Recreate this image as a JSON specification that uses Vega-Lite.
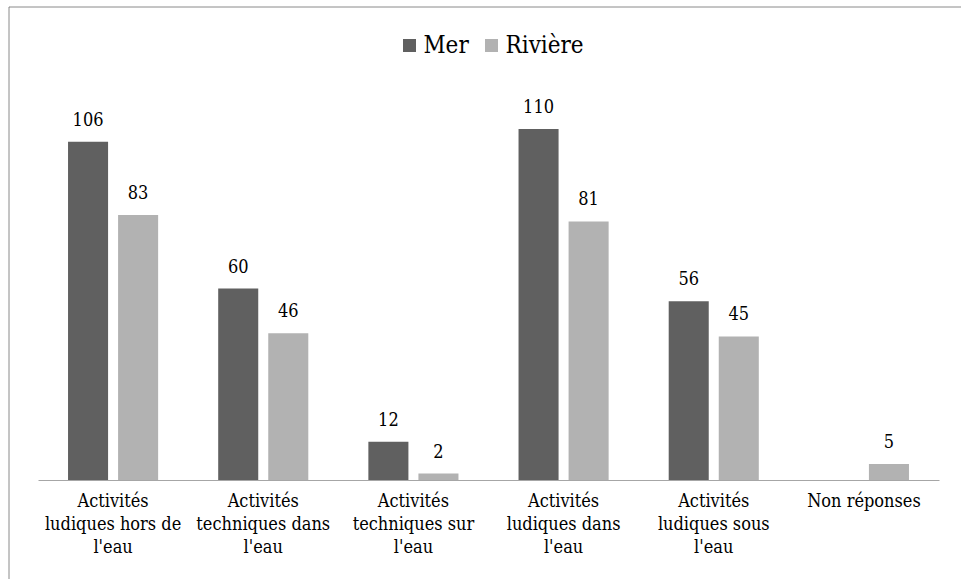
{
  "$schema": "https://vega.github.io/schema/vega-lite/v6.json",
  "width": 952.5,
  "height": 572.5,
  "autosize": {"type": "none"},
  "padding": {"left": 8.5, "top": 6.5, "right": 0, "bottom": 0},
  "background": "white",
  "view": {"stroke": "#8a8a8a", "strokeWidth": 1, "strokeDash": [952.5, 1525, 572.5]},
  "config": {
    "font": "DejaVu Serif Condensed",
    "view": {"stroke": "#8a8a8a", "strokeWidth": 1, "strokeDash": [952.5, 1525, 572.5]}
  },
  "data": {
    "values": [
      {"categorie": "Activités ludiques hors de l'eau", "serie": "Mer", "valeur": 106},
      {"categorie": "Activités ludiques hors de l'eau", "serie": "Rivière", "valeur": 83},
      {"categorie": "Activités techniques dans l'eau", "serie": "Mer", "valeur": 60},
      {"categorie": "Activités techniques dans l'eau", "serie": "Rivière", "valeur": 46},
      {"categorie": "Activités techniques sur l'eau", "serie": "Mer", "valeur": 12},
      {"categorie": "Activités techniques sur l'eau", "serie": "Rivière", "valeur": 2},
      {"categorie": "Activités ludiques dans l'eau", "serie": "Mer", "valeur": 110},
      {"categorie": "Activités ludiques dans l'eau", "serie": "Rivière", "valeur": 81},
      {"categorie": "Activités ludiques sous l'eau", "serie": "Mer", "valeur": 56},
      {"categorie": "Activités ludiques sous l'eau", "serie": "Rivière", "valeur": 45},
      {"categorie": "Non réponses", "serie": "Rivière", "valeur": 5}
    ]
  },
  "encoding": {
    "x": {
      "field": "categorie",
      "type": "nominal",
      "sort": null,
      "scale": {"range": [29.5, 930.5], "paddingInner": 0.4, "paddingOuter": 0.2},
      "axis": {
        "title": null,
        "orient": "bottom",
        "offset": -99,
        "labelAngle": 0,
        "ticks": false,
        "grid": false,
        "domainColor": "#a6a6a6",
        "domainWidth": 1,
        "labelFont": "DejaVu Serif Condensed",
        "labelFontSize": 18,
        "labelColor": "#000000",
        "labelPadding": 12,
        "labelLineHeight": 23.4,
        "labelLimit": 0,
        "labelExpr": "test(/^Activités /, datum.value) ? ['Activités', replace(datum.value, /^Activités (.*) \\S+$/, '$1'), replace(datum.value, /^.* /, '')] : datum.value"
      }
    },
    "xOffset": {
      "field": "serie",
      "type": "nominal",
      "scale": {"domain": ["Mer", "Rivière"], "paddingInner": 0.2, "paddingOuter": 0}
    },
    "y": {
      "field": "valeur",
      "type": "quantitative",
      "scale": {"domain": [0, 120], "range": [473.5, 90.5], "nice": false},
      "axis": null
    }
  },
  "layer": [
    {
      "mark": {"type": "bar"},
      "encoding": {
        "color": {
          "field": "serie",
          "type": "nominal",
          "scale": {"domain": ["Mer", "Rivière"], "range": ["#606060", "#b2b2b2"]},
          "legend": {
            "title": null,
            "orient": "none",
            "direction": "horizontal",
            "legendX": 389,
            "legendY": 27,
            "padding": 0,
            "symbolType": "square",
            "symbolSize": 169,
            "symbolStrokeWidth": 0,
            "labelFont": "DejaVu Serif Condensed",
            "labelFontSize": 24,
            "labelColor": "#000000",
            "labelOffset": 2,
            "columnPadding": 10
          }
        }
      }
    },
    {
      "mark": {"type": "text", "baseline": "alphabetic", "dy": -16, "fontSize": 18, "font": "DejaVu Serif Condensed", "color": "#000000"},
      "encoding": {
        "text": {"field": "valeur", "type": "quantitative"}
      }
    }
  ]
}
